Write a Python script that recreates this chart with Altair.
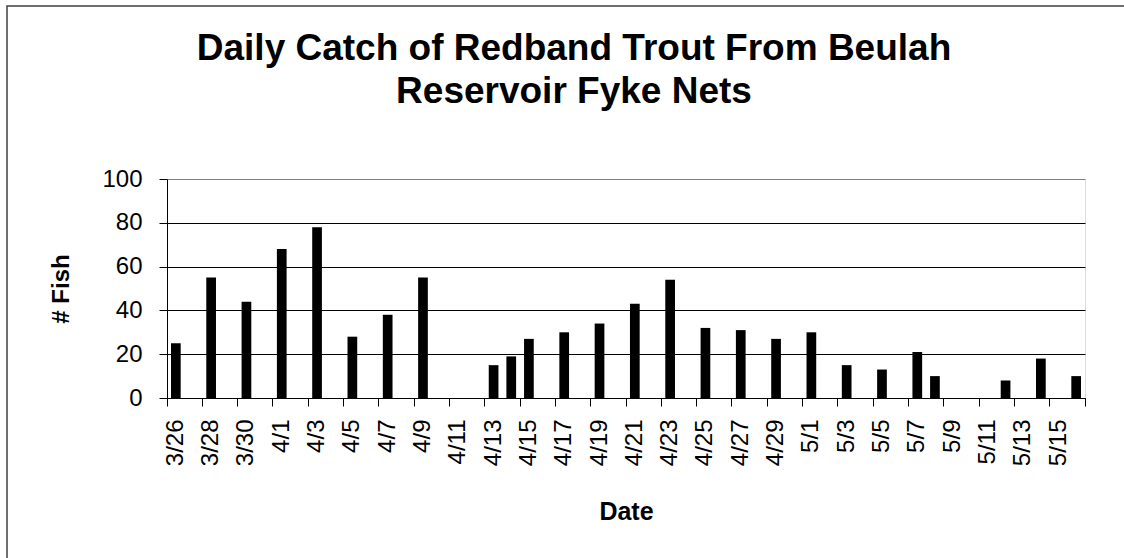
import altair as alt
import pandas as pd

FONT = "Liberation Sans"

# Every day of the netting season, one band per day on the x axis
season_days = ([f"3/{d}" for d in range(26, 32)]
               + [f"4/{d}" for d in range(1, 31)]
               + [f"5/{d}" for d in range(1, 17)])

# Days with a catch and the number of redband trout taken in the fyke nets
catch_dates = ["3/26", "3/28", "3/30", "4/1", "4/3", "4/5", "4/7", "4/9",
               "4/13", "4/14", "4/15", "4/17", "4/19", "4/21", "4/23", "4/25",
               "4/27", "4/29", "5/1", "5/3", "5/5", "5/7", "5/8", "5/12",
               "5/14", "5/16"]
fish_counts = [25, 55, 44, 68, 78, 28, 38, 55,
               15, 19, 27, 30, 34, 43, 54, 32,
               31, 27, 30, 15, 13, 21, 10, 8,
               18, 10]

# Axis labels every second day, y ticks every 20 fish
label_days = season_days[::2]
last_day = season_days[-1:]
y_ticks = [0, 20, 40, 60, 80, 100]

title_lines = ["Daily Catch of Redband Trout From Beulah", "Reservoir Fyke Nets"]

catch = pd.DataFrame({"date": catch_dates, "fish": fish_counts})
single = pd.DataFrame({"k": [0]})

x_scale = alt.Scale(domain=season_days, paddingInner=0, paddingOuter=0)

# Outer chart-area frame
frame = alt.Chart(single).mark_rect(
    filled=False, stroke="#404040", strokeWidth=1.5
).encode(
    x=alt.value(-160), x2=alt.value(1000),
    y=alt.value(-173), y2=alt.value(420),
)

# Two-line chart title, centred over the chart area
title = alt.Chart(single).mark_text(
    text=title_lines, font=FONT, fontSize=37, fontWeight="bold",
    color="black", align="center", baseline="alphabetic", lineHeight=43,
).encode(x=alt.value(407), y=alt.value(-119))

bars = alt.Chart(catch).mark_bar(
    color="black", width=alt.RelativeBandSize(0.55)
).encode(
    x=alt.X(
        "date:N", scale=x_scale, title="Date",
        axis=alt.Axis(
            values=label_days, orient="bottom", labelAngle=270,
            ticks=False, domain=True, domainColor="black", domainWidth=1,
            labelFont=FONT, labelFontSize=24, labelColor="black",
            labelPadding=21, labelOverlap=False, grid=False,
            titleFont=FONT, titleFontSize=25, titleFontWeight="bold",
            titleColor="black", titleY=121, titleBaseline="alphabetic",
        ),
    ),
    y=alt.Y(
        "fish:Q", scale=alt.Scale(domain=[0, 100], nice=False), title="# Fish",
        axis=alt.Axis(
            values=y_ticks, orient="left",
            domainColor="black", domainWidth=1,
            tickColor="black", tickSize=8, tickWidth=1,
            labelFont=FONT, labelFontSize=24, labelColor="black",
            labelPadding=17,
            grid=True, gridWidth=1,
            gridColor={"condition": {"test": "datum.value === 100", "value": "#808080"},
                       "value": "black"},
            titleFont=FONT, titleFontSize=24, titleFontWeight="bold",
            titleColor="black", titleAngle=270, titleX=-99, titleY=109.5,
            titleAlign="center", titleBaseline="alphabetic",
        ),
    ),
)

# Tick marks on the day boundaries, one every two days
day_ticks = alt.Chart(catch).mark_point(opacity=0).encode(
    x=alt.X(
        "date:N", scale=x_scale, title="",
        axis=alt.Axis(
            values=label_days, orient="bottom", bandPosition=0,
            labels=False, domain=False, ticks=True, tickSize=8,
            tickColor="black", tickWidth=1, grid=False,
        ),
    ),
)

# Closing tick at the end of the last day
end_tick = alt.Chart(catch).mark_point(opacity=0).encode(
    x=alt.X(
        "date:N", scale=x_scale, title="",
        axis=alt.Axis(
            values=last_day, orient="bottom", bandPosition=1,
            labels=False, domain=False, ticks=True, tickSize=8,
            tickColor="black", tickWidth=1, grid=False,
        ),
    ),
)

chart = alt.layer(frame, title, bars, day_ticks, end_tick).resolve_scale(
    x="shared"
).resolve_axis(
    x="independent"
).properties(
    width=918,
    height=219,
    autosize=alt.AutoSizeParams(type="none"),
    padding={"left": 167, "top": 179, "right": 39, "bottom": 160},
).configure_view(
    stroke="#808080", strokeWidth=1.5
).configure(background="white")

chart.save("out.html", embed_options={"renderer": "svg", "actions": False})
